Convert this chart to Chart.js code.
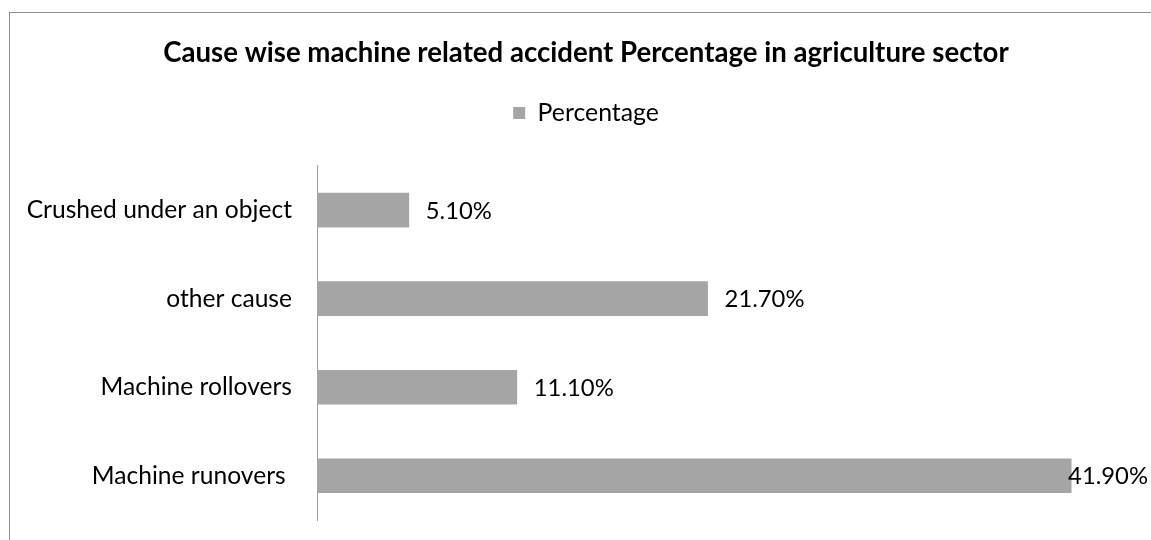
<!DOCTYPE html>
<html>
<head>
<meta charset="utf-8">
<style>
    body { margin: 0; background: #ffffff; overflow: hidden; }
    .frame {
        position: absolute;
        left: 9px;
        top: 12px;
        width: 1300px;
        height: 700px;
        border-left: 1px solid #8e8e8e;
        border-top: 1px solid #8e8e8e;
    }
    /* el gráfico original sigue más allá del borde derecho de la imagen */
    #canvasCausas { position: absolute; left: 0; top: 0; }
</style>
</head>
<body>
<div class="frame"></div>
<canvas id="canvasCausas" width="1172" height="540"></canvas>

<script src="https://cdn.jsdelivr.net/npm/chart.js@4.4.6/dist/chart.umd.min.js"></script>
<script>
    // datos (de arriba hacia abajo)
    const causas = ['Crushed under an object', 'other cause', 'Machine rollovers', 'Machine runovers '];
    const porcentajes = [5.1, 21.7, 11.1, 41.9];
    const serieNombre = 'Percentage';
    const tituloTexto = 'Cause wise machine related accident Percentage in agriculture sector';

    const fuente = 'Lato, Carlito, Calibri, sans-serif';
    const anchoVisible = 1151;

    // etiquetas de valor al final de cada barra
    const etiquetasValor = {
        id: 'etiquetasValor',
        afterDatasetsDraw(chart) {
            const ctx = chart.ctx;
            const meta = chart.getDatasetMeta(0);
            ctx.save();
            ctx.font = '23.8px ' + fuente;
            ctx.fillStyle = '#000000';
            ctx.textBaseline = 'middle';
            ctx.textAlign = 'left';
            meta.data.forEach(function(bar, i) {
                const txt = porcentajes[i].toFixed(2) + '%';
                const w = ctx.measureText(txt).width;
                let x = bar.x + 17;
                if (x + w > anchoVisible - 3) {
                    x = anchoVisible - 3 - w;
                }
                ctx.fillText(txt, x, bar.y + 1);
            });
            ctx.restore();
        }
    };

    const grafica = new Chart(document.getElementById('canvasCausas'), {
        type: 'bar',
        data: {
            labels: causas,
            datasets: [{
                label: serieNombre,
                data: porcentajes,
                backgroundColor: '#a5a5a5',
                borderWidth: 0,
                barThickness: 34
            }]
        },
        options: {
            indexAxis: 'y',
            responsive: false,
            animation: false,
            layout: {
                padding: { top: 0, right: 0, bottom: 20, left: 0 }
            },
            scales: {
                x: {
                    position: 'top',
                    min: 0,
                    max: 47.5,
                    grid: { display: false, drawTicks: false },
                    border: { display: false },
                    ticks: { display: false },
                    // hueco entre la leyenda y el área de barras
                    afterFit: function(scale) {
                        scale.height = 30.5;
                    }
                },
                y: {
                    grid: { display: false, drawTicks: false },
                    border: { display: true, color: '#9e9e9e', width: 1 },
                    ticks: {
                        color: '#000000',
                        padding: 25,
                        font: { family: fuente, size: 24.6 }
                    },
                    afterFit: function(scale) {
                        scale.width = 317;
                        scale.paddingTop = 0;
                        scale.paddingBottom = 0;
                    }
                }
            },
            plugins: {
                title: {
                    display: true,
                    text: tituloTexto,
                    color: '#000000',
                    font: { family: fuente, size: 27.6, weight: 'bold' },
                    padding: { top: 37, bottom: 20.5 }
                },
                legend: {
                    display: true,
                    position: 'top',
                    labels: {
                        color: '#000000',
                        boxWidth: 12,
                        boxHeight: 12,
                        padding: 10,
                        font: { family: fuente, size: 24.8 }
                    }
                },
                tooltip: { enabled: false }
            }
        },
        plugins: [etiquetasValor]
    });
</script>
</body>
</html>
